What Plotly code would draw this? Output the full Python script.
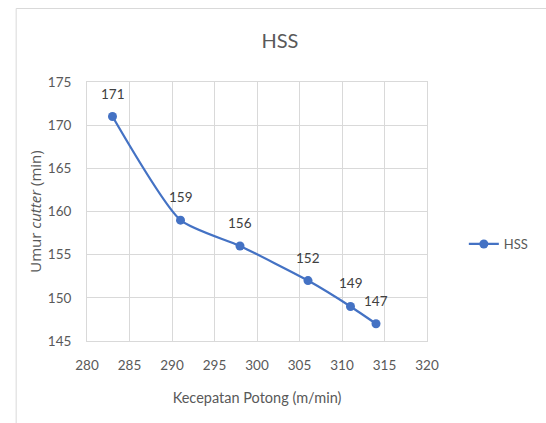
import plotly.graph_objects as go

# Cutting speed (m/min) vs. tool life (min) for HSS cutter
kecepatan = [283, 291, 298, 306, 311, 314]
umur = [171, 159, 156, 152, 149, 147]
x_ticks = [280, 285, 290, 295, 300, 305, 310, 315, 320]
y_ticks = [145, 150, 155, 160, 165, 170, 175]

W, H = 546, 423
L, R, T, B = 87, 99, 82, 82
PW = W - L - R
PH = H - T - B

BLUE = "#4472C4"
GRID = "#d9d9d9"
TXT = "#595959"
FONT = "Lato, Liberation Sans, sans-serif"

fig = go.Figure()
fig.add_trace(go.Scatter(
    x=kecepatan, y=umur, name="HSS",
    mode="lines+markers",
    line=dict(color=BLUE, width=2.25, shape="spline", smoothing=0.6),
    marker=dict(color=BLUE, size=9),
))

# value labels above each point
for xv, yv in zip(kecepatan, umur):
    fig.add_annotation(x=xv, y=yv, text=str(yv), showarrow=False,
                       yshift=23, font=dict(family=FONT, size=13.5, color="#404040"))

# outer chart frame
def px_x(p):
    return (p - L) / PW

def px_y(p):
    return 1 - (p - T) / PH

fig.add_shape(type="rect", xref="paper", yref="paper",
              x0=px_x(12), x1=px_x(600), y0=px_y(8.5), y1=px_y(500),
              line=dict(color=GRID, width=1), fillcolor="rgba(0,0,0,0)", layer="below")

fig.update_layout(
    width=W, height=H,
    margin=dict(l=L, r=R, t=T, b=B),
    paper_bgcolor="white", plot_bgcolor="white",
    title=dict(text="HSS", x=280 / W, xref="container", xanchor="center",
               y=1 - 41 / H, yref="container", yanchor="middle",
               font=dict(family=FONT, size=20, color=TXT)),
    showlegend=True,
    legend=dict(x=px_x(486), y=px_y(244), xanchor="left", yanchor="middle",
                font=dict(family=FONT, size=13, color=TXT),
                bgcolor="rgba(0,0,0,0)", itemwidth=30),
    xaxis=dict(range=[280, 320], tickvals=x_ticks, showgrid=True, gridcolor=GRID,
               gridwidth=1, zeroline=False, showline=True, linecolor=GRID,
               mirror=True, ticks="", ticklen=0, ticklabelstandoff=12,
               tickfont=dict(family=FONT, size=13.5, color=TXT),
               title=dict(text="Kecepatan Potong (m/min)", standoff=20,
                          font=dict(family=FONT, size=14.5, color=TXT))),
    yaxis=dict(range=[145, 175], tickvals=y_ticks, showgrid=True, gridcolor=GRID,
               gridwidth=1, zeroline=False, showline=True, linecolor=GRID,
               mirror=True, ticks="", ticklen=0, ticklabelstandoff=12,
               tickfont=dict(family=FONT, size=13.5, color=TXT),
               title=dict(text="Umur <i>cutter</i> (min)", standoff=2,
                          font=dict(family="Open Sans", size=15, color=TXT))),
)

fig.write_html("out.html")
